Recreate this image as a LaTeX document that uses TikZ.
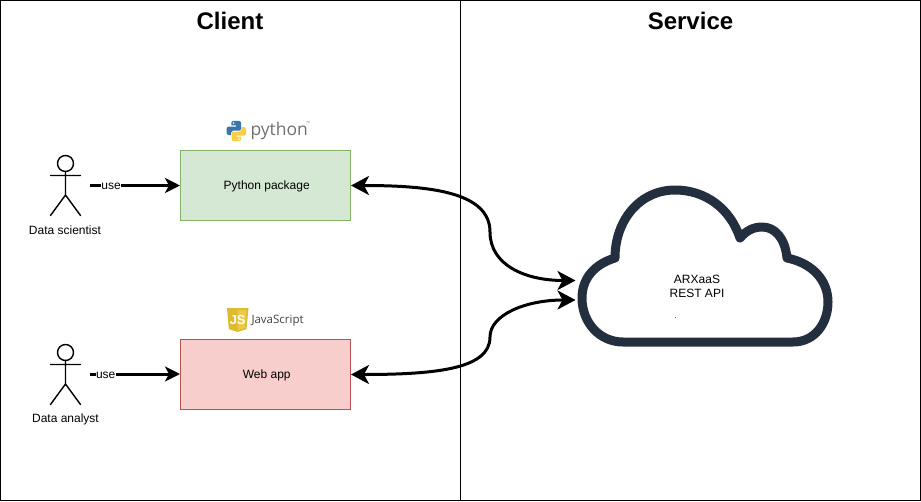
\documentclass[tikz,border=0pt]{standalone}
\usepackage{fontspec}
\setmainfont{Liberation Sans}
\newfontfamily\logofont{Open Sans}
\usetikzlibrary{arrows.meta}
\definecolor{arxInk}{HTML}{232F3E}
\definecolor{arxGreen}{HTML}{D5E8D4}
\definecolor{arxGreenLine}{HTML}{82B366}
\definecolor{arxRose}{HTML}{F8CECC}
\definecolor{arxRoseLine}{HTML}{B85450}
\definecolor{pyBlue}{HTML}{3A76A8}
\definecolor{pyGold}{HTML}{F7CE45}
\definecolor{pyGrey}{HTML}{707070}
\definecolor{jsGold}{HTML}{DDBB30}
\definecolor{jsLight}{HTML}{EBCB45}
\begin{document}
\begin{tikzpicture}[x=1pt, y=-1pt, line width=1pt,
  every node/.style={font=\fontsize{12}{14}\selectfont, inner sep=0pt},
  title/.style={font=\fontsize{24}{28}\selectfont\bfseries},
  appbox/.style={draw, minimum width=170pt, minimum height=70pt, text height=9pt, text depth=0.5pt, execute at begin node=\hspace*{2.5pt}},
  actor/.style={line width=1.4pt, line cap=round},
  vec/.style={-{Stealth[length=15pt,width=15pt,inset=4pt]}, line width=3pt},
  wide/.style={{Stealth[length=18pt,width=19pt,inset=5pt]}-{Stealth[length=18pt,width=19pt,inset=5pt]}, line width=3pt},
  uselabel/.style={fill=white, inner xsep=0.5pt, inner ysep=1pt, text height=9pt, text depth=0.5pt}]
\useasboundingbox (0,0) rectangle (921,501);
\draw (0.5,0.5) rectangle (920.5,500.5);
\draw (460.5,0.5) -- (460.5,500.5);
\node[title] (client) at (230,21) {Client};
\node[title] (service) at (690.5,21) {Service};
% boxes
\node[appbox, fill=arxGreen, draw=arxGreenLine] (python) at (265.5,185.5) {Python package};
\node[appbox, fill=arxRose, draw=arxRoseLine] (webapp) at (265.5,374.5) {Web app};
% actors
\foreach \ya in {0,189}{
  \begin{scope}[yshift=-\ya pt, actor]
    \draw (65.5,163.5) circle (8);
    \draw (65.5,171.5) -- (65.5,195) (50.5,175.5) -- (80.5,175.5) (50.5,215.5) -- (65.5,195) -- (80.5,215.5);
  \end{scope}
}
\node (scientist) at (65,230) {Data scientist};
\node (analyst) at (65.5,419.5) {Data analyst};
\coordinate (scientistout) at (90,185.5);
\coordinate (analystout) at (90,374);
\draw[vec] (scientistout) -- (python.west) node[uselabel, pos=0.235] (usea) {use};
\draw[vec] (analystout) -- (webapp.west |- analystout) node[uselabel, pos=0.175] (useb) {use};
% cloud
\draw[arxInk, line width=9pt, line join=round, fill=white] (623,342) -- (793,342)
  .. controls (815,342) and (828,323) .. (828,302)
  .. controls (828,280) and (812,263) .. (787,258)
  .. controls (785,238) and (775,227) .. (762,227)
  .. controls (753,227) and (746,231) .. (740,238)
  .. controls (730,208) and (705,190) .. (675,190)
  .. controls (640,190) and (615,220) .. (615,258)
  .. controls (595,264) and (582,278) .. (582,298)
  .. controls (582,323) and (600,342) .. (623,342) -- cycle;
\node[align=center] (arxaas) at (697,286) {ARXaaS\\REST API};
\node[font=\fontsize{8}{10}\selectfont] (dot) at (675.5,318) {.};
\coordinate (cloudupper) at (575.5,280.5);
\coordinate (cloudlower) at (575.5,300);
\draw[wide] (python.east) .. controls (430,185.5) and (490,192) .. (490,232) .. controls (490,265) and (525,280.5) .. (cloudupper);
\draw[wide] (webapp.east) .. controls (440,374.5) and (490,368) .. (490,337) .. controls (490,315) and (525,300) .. (cloudlower);
% python logo
\fill[pyBlue] (233,120.8) -- (239.5,120.8) -- (241,122.3) -- (241,129) -- (239.5,130.5) -- (233,130.5) -- (231.2,132.3) -- (231,135) -- (228,135) -- (226.5,133) -- (226.5,128) -- (228,126.5) -- (236,126.5) -- (236,125.3) -- (231.3,125.3) -- (231.3,122.3) -- cycle;
\fill[pyGold] (239.5,141.2) -- (233,141.2) -- (231.5,139.7) -- (231.5,133) -- (233,131.5) -- (239.5,131.5) -- (241.3,129.7) -- (241.5,127) -- (244.5,127) -- (246,129) -- (246,134) -- (244.5,135.5) -- (236.5,135.5) -- (236.5,136.7) -- (241.2,136.7) -- (241.2,139.7) -- cycle;
\fill[white] (233.5,123) circle (0.9) (239,139) circle (0.9);
\node[font=\logofont\fontsize{17.5}{20}\selectfont, text=pyGrey, anchor=base west] (pythonlogo) at (250,135.5) {python};
\node[font=\fontsize{4}{5}\selectfont, text=pyGrey] (pythontm) at (308,123) {™};
% javascript logo
\fill[jsGold] (227,308) -- (248.5,308) -- (246.5,329) -- (237.5,332) -- (228.8,329) -- cycle;
\fill[jsLight] (237.7,309.8) -- (246.5,309.8) -- (245,328) -- (237.7,330.2) -- cycle;
\node[font=\fontsize{13}{14}\selectfont\bfseries, text=white] (jsmark) at (237.7,320) {JS};
\node[font=\logofont\fontsize{11.5}{14}\selectfont, text=black!75, anchor=base west] (jslogo) at (251,323) {JavaScript};
\end{tikzpicture}
\end{document}
